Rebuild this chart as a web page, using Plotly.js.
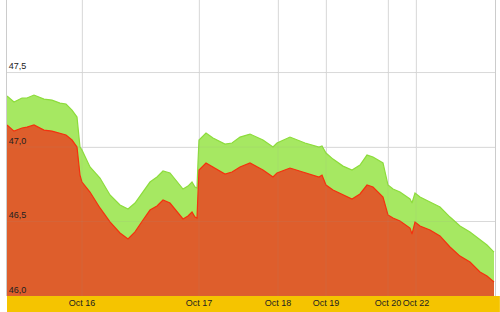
<!DOCTYPE html>
<html>
<head>
<meta charset="utf-8">
<script src="https://cdn.plot.ly/plotly-3.0.1.min.js"></script>
<style>html,body{margin:0;padding:0;background:#fff;}#chart{width:500px;height:312px;}</style>
</head>
<body>
<div id="chart"></div>
<script>
// session position (trading-time units) of each sample
const t = [0,7,15,20,27,37,45,53,59,65,70,73,75,83,93,103,113,121,128,136,143,150,156,163,170,176,181,185,188,190,191,192,199,206,218,225,233,243,256,266,270,283,298,312,315,319,326,336,345,353,360,366,376,381,386,393,403,405,408,413,423,433,443,453,463,473,480,487];
// lower series (red / orange)
const bid = [47.148,47.107,47.128,47.134,47.148,47.114,47.107,47.094,47.081,47.047,47.000,46.812,46.765,46.698,46.591,46.497,46.423,46.383,46.430,46.510,46.577,46.604,46.644,46.624,46.564,46.517,46.537,46.564,46.530,46.523,46.690,46.846,46.893,46.866,46.819,46.832,46.866,46.893,46.846,46.799,46.826,46.859,46.826,46.799,46.812,46.745,46.711,46.678,46.651,46.685,46.745,46.732,46.664,46.544,46.523,46.503,46.456,46.416,46.497,46.470,46.443,46.403,46.329,46.268,46.228,46.161,46.134,46.094];
// upper series (green)
const ask = [47.342,47.302,47.329,47.329,47.349,47.322,47.315,47.295,47.289,47.248,47.201,47.000,46.980,46.866,46.792,46.678,46.611,46.584,46.624,46.698,46.765,46.799,46.839,46.826,46.765,46.718,46.738,46.765,46.732,46.725,46.900,47.047,47.094,47.060,47.020,47.027,47.067,47.087,47.047,47.000,47.027,47.067,47.027,47.000,47.007,46.960,46.919,46.872,46.846,46.879,46.946,46.933,46.893,46.745,46.718,46.698,46.651,46.624,46.691,46.664,46.631,46.597,46.530,46.470,46.430,46.376,46.342,46.295];
const tickPos = [75,192,271,319,381,409];
const tickText = ['Oct 16','Oct 17','Oct 18','Oct 19','Oct 20','Oct 22'];
const yTicks = [46.0,46.5,47.0,47.5];

const traces = [
  {x:t, y:ask, type:'scatter', mode:'lines', fill:'tozeroy',
   line:{color:'#8ddc3c', width:1.2}, fillcolor:'#a6e862', hoverinfo:'none'},
  {x:t, y:bid, type:'scatter', mode:'lines', fill:'tozeroy',
   line:{color:'#f4310e', width:1.2}, fillcolor:'#de5e2c', hoverinfo:'none'}
];
const layout = {
  width:500, height:312,
  margin:{l:7, r:5, t:0, b:16, pad:0},
  paper_bgcolor:'#ffffff', plot_bgcolor:'#ffffff',
  showlegend:false,
  separators:',.',
  font:{family:'Liberation Sans, Arial, sans-serif', size:9, color:'#222'},
  xaxis:{range:[0,488], tickvals:tickPos, ticktext:tickText, tickangle:0, showgrid:true,
    gridcolor:'#e2e2e2', gridwidth:1, zeroline:false, ticks:'', ticklen:0,
    showline:false, tickfont:{size:9, color:'#222'}, fixedrange:true, automargin:false},
  yaxis:{range:[46.0,47.987], tickvals:yTicks, tickformat:'.1f', showgrid:true,
    gridcolor:'#e2e2e2', gridwidth:1, zeroline:false, ticks:'',
    ticklabelposition:'inside top', showline:true, linecolor:'#cccccc', linewidth:1,
    mirror:true, tickfont:{size:9, color:'#222'}, layer:'above traces', fixedrange:true},
  shapes:[
    {type:'rect', xref:'paper', yref:'paper', x0:0, x1:1.01, y0:-16/296, y1:0,
     fillcolor:'#f5c400', line:{width:0}, layer:'below'}
  ]
};
tickPos.forEach(p => layout.shapes.push({type:'line', xref:'x', yref:'paper', x0:p, x1:p, y0:0, y1:1,
  line:{color:'rgba(160,160,160,0.12)', width:1}, layer:'above'}));
yTicks.forEach(v => layout.shapes.push({type:'line', xref:'paper', yref:'y', x0:0, x1:1, y0:v, y1:v,
  line:{color:'rgba(160,160,160,0.12)', width:1}, layer:'above'}));
Plotly.newPlot('chart', traces, layout, {displayModeBar:false, staticPlot:true});
</script>
</body>
</html>
